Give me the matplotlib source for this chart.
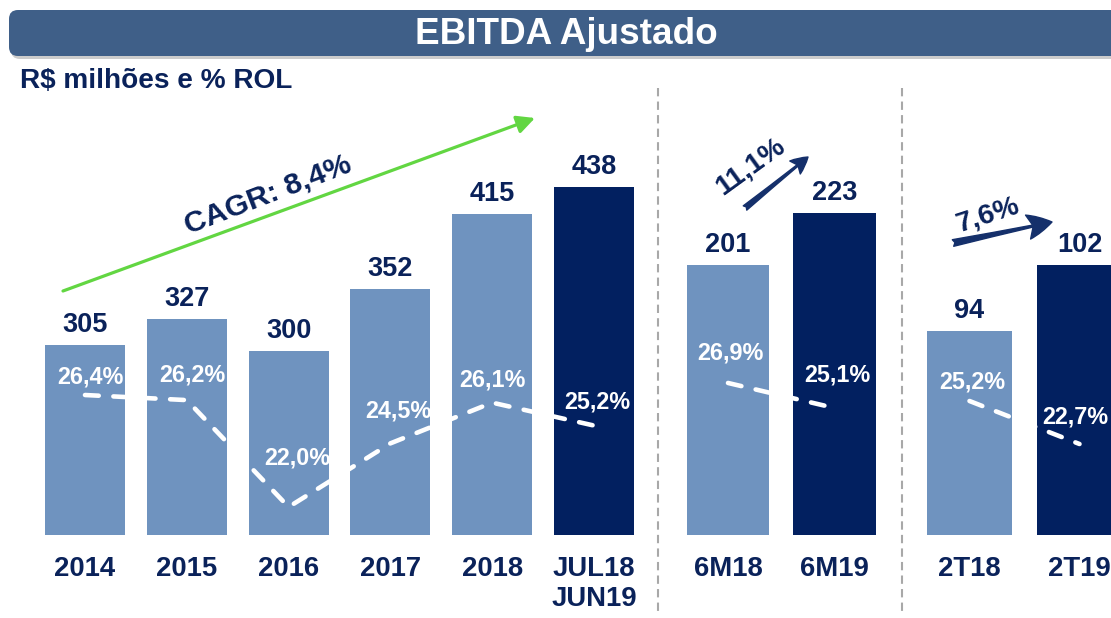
import numpy as np
import matplotlib
matplotlib.use('Agg')
import matplotlib.pyplot as plt
from matplotlib.patches import FancyBboxPatch, FancyArrowPatch

plt.rcParams['font.family'] = ['Liberation Sans', 'DejaVu Sans']
plt.rcParams['font.weight'] = 'bold'

# dados
anos = ['2014', '2015', '2016', '2017', '2018', 'JUL18\nJUN19']
ebitda_anos = [305, 327, 300, 352, 415, 438]
margem_anos = [26.4, 26.2, 22.0, 24.5, 26.1, 25.2]

semestres = ['6M18', '6M19']
ebitda_sem = [201, 223]
margem_sem = [26.9, 25.1]

trimestres = ['2T18', '2T19']
ebitda_tri = [94, 102]
margem_tri = [25.2, 22.7]

crescimento = ['CAGR: 8,4%', '11,1%', '7,6%']

NAVY = '#0a225a'
CLARO = '#6f93bf'
ESCURO = '#022060'

W, H = 1111, 618
fig = plt.figure(figsize=(W / 100, H / 100), dpi=100)


def px_axes(left, right, top=85, bottom=535):
    return fig.add_axes([left / W, 1 - bottom / H, (right - left) / W, (bottom - top) / H])


def grupo(left, right, cats, vals, margens, ylim, ylim_m, cores, dx_m, dy_m, width):
    ax = px_axes(left, right)
    x = np.arange(len(cats))
    ax.bar(x, vals, width=width, color=cores)
    ax.set_xlim(-0.5, len(cats) - 0.5)
    ax.set_ylim(*ylim)
    ax.axis('off')
    for xi, v, c in zip(x, vals, cats):
        ax.annotate(str(v), (xi, v), xytext=(0, 7), textcoords='offset pixels',
                    ha='center', va='bottom', fontsize=19.5, color=NAVY,
                    annotation_clip=False)
        off = -49 if '\n' in c else -34
        ax.annotate(c, (xi, ylim[0]), xytext=(0, off), textcoords='offset pixels',
                    ha='center', va='center', fontsize=19.8, color=NAVY,
                    linespacing=1.15, annotation_clip=False)
    ax2 = ax.twinx()
    ax2.set_ylim(*ylim_m)
    ax2.axis('off')
    ax2.plot(x, margens, color='white', lw=3.3, ls=(0, (3, 3.2)),
             dash_capstyle='round', solid_capstyle='round')
    for xi, m, dx, dy in zip(x, margens, dx_m, dy_m):
        ax2.annotate(f'{m:.1f}%'.replace('.', ','), (xi, m), xytext=(dx, dy),
                     textcoords='offset pixels', ha='center', va='center',
                     fontsize=16.8, color='white', annotation_clip=False)
    return ax


grupo(34.1, 644.9, anos, ebitda_anos, margem_anos, (145.3, 523.5), (20.9, 38.58),
      [CLARO] * 5 + [ESCURO], [5, 6, 9, 8, 0, 3], [18, 25, 49, 32, 23, 24], 0.786)
grupo(674.75, 887.75, semestres, ebitda_sem, margem_sem, (87.4, 276.7), (15.96, 48.34),
      [CLARO, ESCURO], [2, 3], [30, 33], 0.77)
grupo(914.5, 1134.5, trimestres, ebitda_tri, margem_tri, (69.1, 123.9), (17.41, 43.57),
      [CLARO, ESCURO], [3, -4], [19, 27], 0.773)

# camada de anotações em pixels
ov = fig.add_axes([0, 0, 1, 1])
ov.set_xlim(0, W)
ov.set_ylim(H, 0)
ov.axis('off')

ov.add_patch(FancyBboxPatch((11, 13), 1130, 46, boxstyle='round,pad=0,rounding_size=9',
                            fc='#9a9a9a', ec='none', alpha=0.5))
ov.add_patch(FancyBboxPatch((9, 10), 1130, 46, boxstyle='round,pad=0,rounding_size=9',
                            fc='#3f5f88', ec='none'))
ov.text(566, 34, 'EBITDA Ajustado', color='white', fontsize=26.6, ha='center', va='center')
ov.text(20, 81, 'R$ milhões e % ROL', color=NAVY, fontsize=20.2, ha='left', va='center')

for xs in (658, 902):
    ov.plot([xs, xs], [88, 615], color='#a8a8a8', lw=1.5, ls=(0, (4, 2.5)))

ov.add_patch(FancyArrowPatch((63, 291), (535, 118), arrowstyle='-|>,head_length=0.6,head_width=0.3',
                             mutation_scale=18, color='#62d642', lw=2.3,
                             shrinkA=0, shrinkB=0))
ov.text(268, 195, crescimento[0], color=NAVY, fontsize=21.8, rotation=21,
        ha='center', va='center', rotation_mode='anchor')

ov.add_patch(FancyArrowPatch((745, 208), (808, 157),
                             arrowstyle='fancy,head_length=0.6,head_width=0.6,tail_width=0.2',
                             mutation_scale=20, color='#15306b', shrinkA=0, shrinkB=0))
ov.text(750, 166, crescimento[1], color=NAVY, fontsize=20.5, rotation=36,
        ha='center', va='center', rotation_mode='anchor')

ov.add_patch(FancyArrowPatch((953, 243), (1052, 222),
                             arrowstyle='fancy,head_length=0.8,head_width=0.8,tail_width=0.22',
                             mutation_scale=22, color='#15306b', shrinkA=0, shrinkB=0))
ov.text(988, 215, crescimento[2], color=NAVY, fontsize=20.5, rotation=18,
        ha='center', va='center', rotation_mode='anchor')

fig.savefig('out.png', dpi=100)
